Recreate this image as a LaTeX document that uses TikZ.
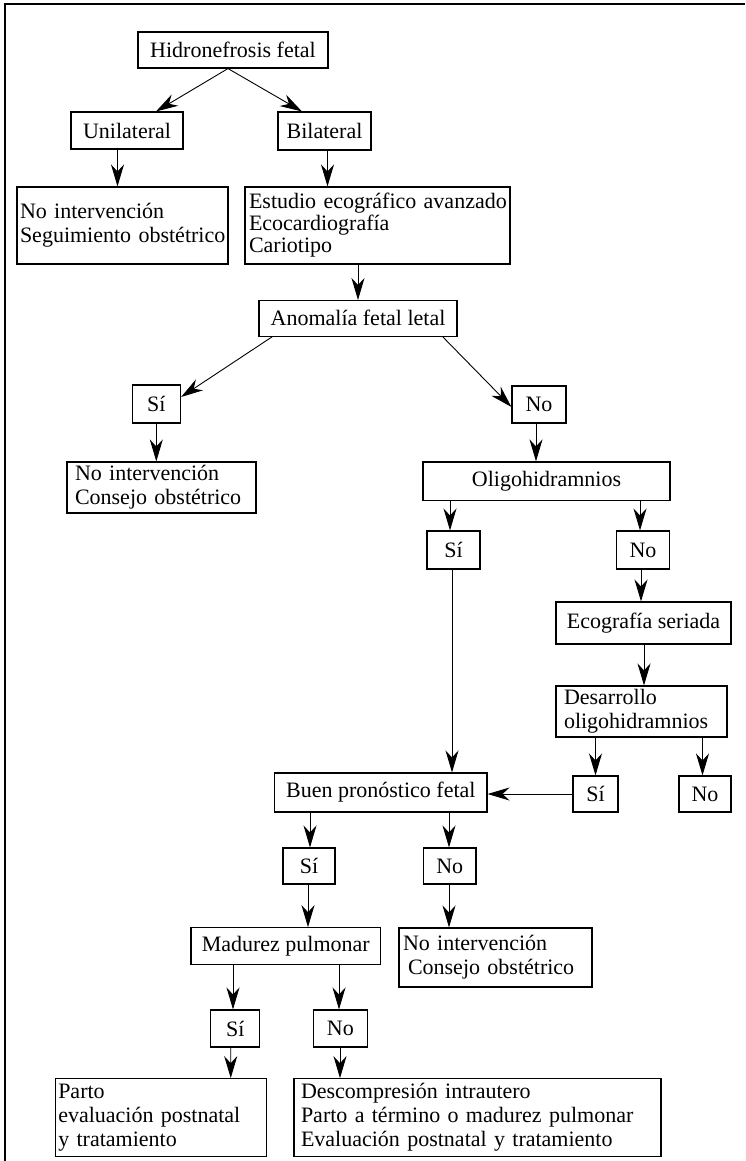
\documentclass[tikz,border=0pt]{standalone}
\usepackage{fontspec}
\setmainfont{Liberation Serif}
\usetikzlibrary{arrows.meta}
\begin{document}
\begin{tikzpicture}[x=1pt,y=-1pt,
  box/.style={draw, line width=1.1pt, inner sep=0pt, font=\fontsize{22}{24}\selectfont},
  lbox/.style={box, align=left},
  arr/.style={-{Stealth[length=22pt,width=13pt,inset=7pt]}, line width=0.9pt}]
\useasboundingbox (0,0) rectangle (745,1161);
\draw[line width=1.5pt] (5,1161) -- (5,4) -- (745,4);
% nodes
\node[box, minimum width=190, minimum height=36] (hid) at (233,50) {Hidronefrosis fetal};
\node[box, minimum width=112, minimum height=37] (uni) at (127,130.5) {Unilateral};
\node[box, minimum width=93, minimum height=38] (bil) at (324.5,131) {Bilateral};
\node[lbox, text width=205pt, inner xsep=3pt, minimum height=77] (noint1) at (122.5,225.5) {\mbox{No intervención}\\\mbox{Seguimiento obstétrico}};
\node[lbox, text width=257pt, inner xsep=4pt, minimum height=77, font=\fontsize{22}{22}\selectfont] (est) at (377.5,225.5) {\mbox{Estudio ecográfico avanzado}\\\mbox{Ecocardiografía}\\\mbox{Cariotipo}};
\node[box, minimum width=198, minimum height=35.5] (anom) at (358,318.3) {Anomalía fetal letal};
\node[box, minimum width=48.5, minimum height=38] (si1) at (156.3,404) {Sí};
\node[box, minimum width=54, minimum height=37] (no1) at (539,404.5) {No};
\node[lbox, text width=173pt, inner xsep=8pt, minimum height=51] (noint2) at (161.5,487.5) {\mbox{No intervención}\\\mbox{Consejo obstétrico}};
\node[box, minimum width=247, minimum height=38.7] (oligo) at (546.5,481.3) {Oligohidramnios};
\node[box, minimum width=53, minimum height=38] (si2) at (453.5,550) {Sí};
\node[box, minimum width=53, minimum height=38] (no2) at (643,550) {No};
\node[box, minimum width=175, minimum height=42] (eco) at (643.5,623) {Ecografía seriada};
\node[lbox, text width=155pt, inner xsep=8pt, minimum height=51] (des) at (641.5,711.5) {\mbox{Desarrollo}\\\mbox{oligohidramnios}};
\node[box, minimum width=45, minimum height=36] (si3) at (595.5,794) {Sí};
\node[box, minimum width=52, minimum height=36] (no3) at (705,794) {No};
\node[box, minimum width=212.4, minimum height=39] (buen) at (380.8,792.5) {Buen pronóstico fetal};
\node[box, minimum width=52, minimum height=36] (si4) at (309,866) {Sí};
\node[box, minimum width=52.4, minimum height=36] (no4) at (449.8,866) {No};
\node[box, minimum width=189.6, minimum height=36.6] (mad) at (285.8,946) {Madurez pulmonar};
\node[lbox, text width=185pt, inner xsep=4pt, minimum height=59] (noint3) at (495.5,957.5) {\mbox{No intervención}\\\mbox{\hspace*{5pt}Consejo obstétrico}};
\node[box, minimum width=49.2, minimum height=37] (si5) at (235.2,1028.5) {Sí};
\node[box, minimum width=53.3, minimum height=37] (no5) at (340.4,1028.5) {No};
\node[lbox, text width=205pt, inner xsep=3pt, minimum height=78] (parto) at (160.75,1117.7) {\mbox{Parto}\\\mbox{evaluación postnatal}\\\mbox{y tratamiento}};
\node[lbox, text width=353pt, inner xsep=7pt, minimum height=78] (desc) at (477.5,1117.7) {\mbox{Descompresión intrautero}\\\mbox{Parto a término o madurez pulmonar}\\\mbox{Evaluación postnatal y tratamiento}};
% connectors
\draw[arr] ([xshift=-5]hid.south) -- ([xshift=29]uni.north);
\draw[arr] ([xshift=-5]hid.south) -- ([xshift=-22.5]bil.north);
\draw[arr] ([xshift=-9.5]uni.south) -- ([xshift=-5]noint1.north);
\draw[arr] ([xshift=3]bil.south) -- ([xshift=-50]est.north);
\draw[arr] ([xshift=-19.5]est.south) -- (anom.north);
\draw[arr] ([xshift=14]anom.south west) -- ([yshift=7]si1.east);
\draw[arr] ([xshift=-15]anom.south east) -- ([yshift=-2.5]no1.west);
\draw[arr] (si1.south) -- ([xshift=-5.2]noint2.north);
\draw[arr] ([xshift=-3]no1.south) -- ([xshift=-10.5]oligo.north);
\draw[arr] ([xshift=-96.5]oligo.south) -- ([xshift=-3.5]si2.north);
\draw[arr] ([xshift=93.5]oligo.south) -- ([xshift=-3]no2.north);
\draw[arr] ([xshift=-1.5]si2.south) -- ([xshift=71.2]buen.north);
\draw[arr] ([xshift=-2]no2.south) -- ([xshift=-2.5]eco.north);
\draw[arr] ([xshift=0.5]eco.south) -- ([xshift=2.5]des.north);
\draw[arr] ([xshift=-46]des.south) -- (si3.north);
\draw[arr] ([xshift=61]des.south) -- ([xshift=-2.5]no3.north);
\draw[arr] (si3.west) -- (si3.west -| buen.east);
\draw[arr] ([xshift=-70.8]buen.south) -- ([xshift=1]si4.north);
\draw[arr] ([xshift=68.2]buen.south) -- ([xshift=-0.8]no4.north);
\draw[arr] ([xshift=-1]si4.south) -- ([xshift=22.2]mad.north);
\draw[arr] ([xshift=-0.8]no4.south) -- ([xshift=-46.5]noint3.north);
\draw[arr] ([xshift=-52.8]mad.south) -- ([xshift=-2.2]si5.north);
\draw[arr] ([xshift=53.2]mad.south) -- ([xshift=-1.4]no5.north);
\draw[arr] ([xshift=-4.5]si5.south) -- ([xshift=70]parto.north);
\draw[arr] ([xshift=-0.4]no5.south) -- ([xshift=-137.5]desc.north);
\end{tikzpicture}
\end{document}
